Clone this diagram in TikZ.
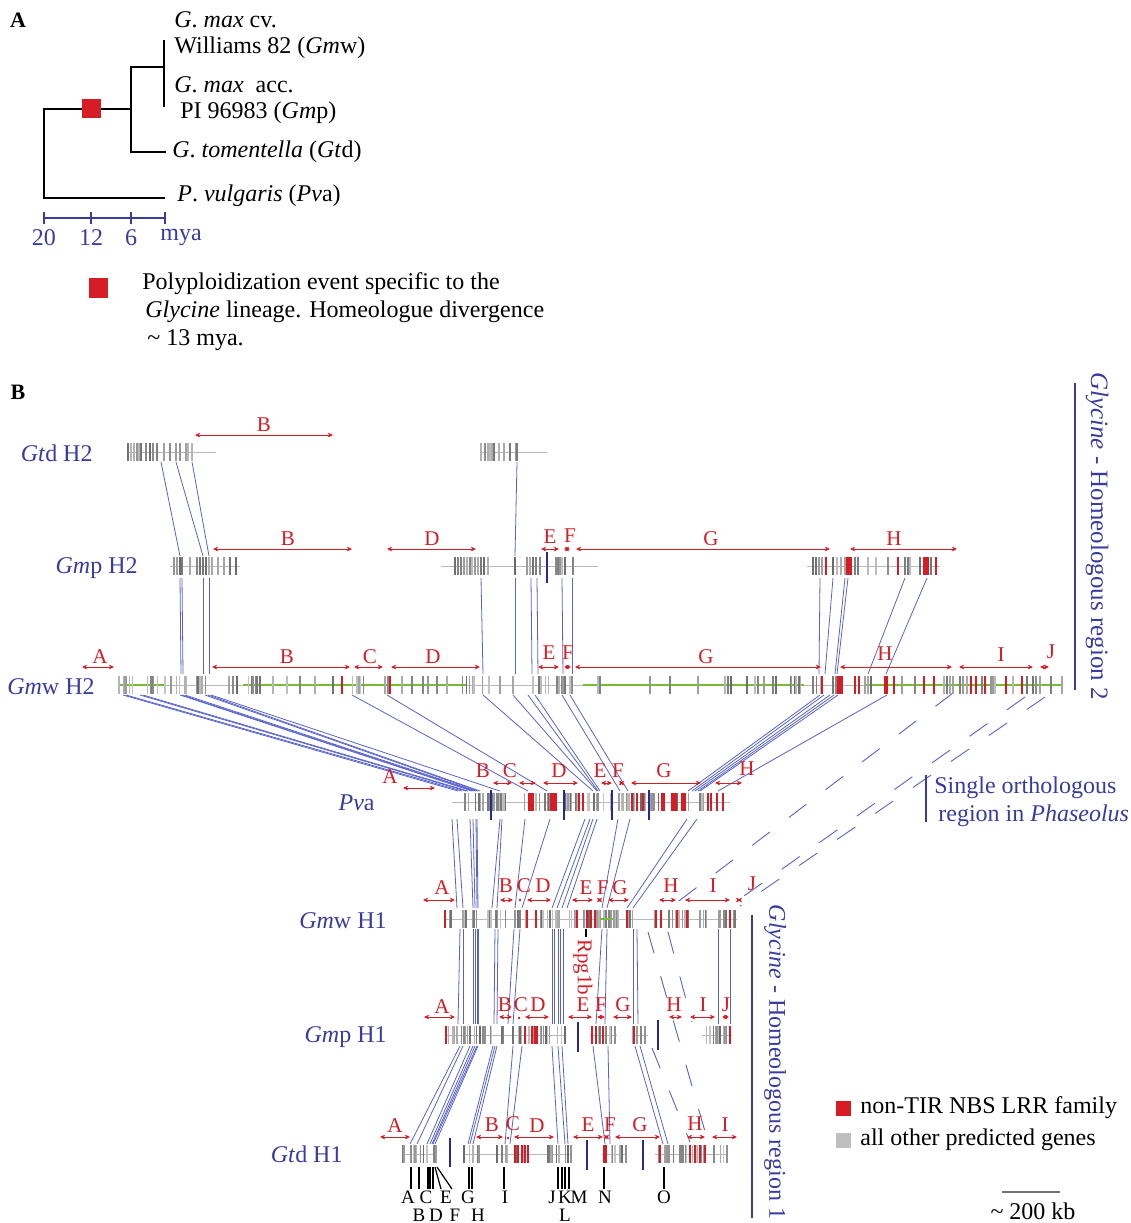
\documentclass[tikz,border=0pt]{standalone}
\usepackage{fontspec}
\setmainfont{Liberation Serif}
\usetikzlibrary{arrows.meta}

\definecolor{nbsred}{RGB}{214,28,36}
\definecolor{linkblue}{RGB}{88,98,205}
\definecolor{labblue}{RGB}{58,58,160}
\definecolor{barblue}{RGB}{40,40,150}
\definecolor{spinegreen}{RGB}{118,188,48}

\tikzset{
  gene/.style={line width=0.75pt},
  nbs/.style={nbsred, line width=0.9pt},
  spine/.style={black!28, line width=0.4pt},
  greenspine/.style={spinegreen, line width=0.9pt},
  link/.style={linkblue, line width=0.4pt},
  brk/.style={linkblue, line width=0.45pt, dash pattern=on 11pt off 12pt},
  gapbar/.style={barblue, line width=1.2pt},
  ivl/.style={nbsred, line width=0.5pt, {Stealth[length=2.6pt,width=2.4pt]}-{Stealth[length=2.6pt,width=2.4pt]}},
  ivltxt/.style={nbsred, inner sep=0, font=\fontsize{10.5}{12}\selectfont},
  trk/.style={labblue, anchor=base east, inner sep=0, font=\fontsize{12}{14}\selectfont},
  txt/.style={anchor=west, inner sep=0},
  tree/.style={line width=1pt},
  tag/.style={inner sep=0, font=\fontsize{9.5}{10}\selectfont}
}

% y, from, to, count
\newcommand{\genefill}[4]{%
  \foreach \k in {1,...,#4}{%
    \pgfmathsetmacro{\gx}{#2+rnd*(#3-#2)}%
    \pgfmathtruncatemacro{\gs}{22+rnd*38}%
    \draw[gene, black!\gs] (\gx,#1-9) -- (\gx,#1+9);}}
\newcommand{\genelist}[2]{%
  \foreach \gx in {#2}{%
    \pgfmathtruncatemacro{\gs}{25+rnd*35}%
    \draw[gene, black!\gs] (\gx,#1-9) -- (\gx,#1+9);}}
\newcommand{\nbslist}[2]{\foreach \gx in {#2}{\draw[nbs] (\gx,#1-9) -- (\gx,#1+9);}}
\newcommand{\links}[3]{\foreach \a/\b in {#3}{\draw[link] (\a,#1) -- (\b,#2);}}

\begin{document}
\begin{tikzpicture}[x=0.5pt, y=-0.5pt, font=\fontsize{12}{14}\selectfont]
\useasboundingbox (0,0) rectangle (1131,1223);
\pgfmathsetseed{7}

% ---------------- A: tree
\node[font=\bfseries\fontsize{11}{13}\selectfont] (labA) at (18,20) {A};
\draw[tree] (131,109) -- (44,109) -- (44,198) -- (165,198);
\draw[tree] (164,67) -- (131,67) -- (131,152) -- (166,152);
\draw[tree] (164,40) -- (164,107);
\fill[nbsred] (82,99) rectangle (101,118);

\node[txt] (gmw1) at (174,20) {\textit{G}. \textit{max} cv.};
\node[txt] (gmw2) at (174,48) {Williams 82 (\textit{Gm}w)};
\node[txt] (gmp1) at (174,85) {\textit{G}. \textit{max}\ \ acc.};
\node[txt] (gmp2) at (180,113) {PI 96983 (\textit{Gm}p)};
\node[txt] (gtd) at (172,152) {\textit{G}. \textit{tomentella} (\textit{Gt}d)};
\node[txt] (pva) at (177,196) {\textit{P}. \textit{vulgaris} (\textit{Pv}a)};

% time axis
\draw[labblue, line width=0.8pt] (44,218) -- (165,218);
\foreach \t/\l in {44/20, 91/12, 131/6} {
  \draw[labblue, line width=0.8pt] (\t,212) -- (\t,224);
  \node[labblue] (mya\l) at (\t,238) {\l};
}
\draw[labblue, line width=0.8pt] (165,212) -- (165,224);
\node[labblue] (myalab) at (181,237) {mya};

% polyploidy key
\fill[nbsred] (89,278) rectangle (108,298);
\node[txt] (key1) at (142,284) {Polyploidization event specific to the};
\node[txt] (key2) at (145,312) {\textit{Glycine} lineage. Homeologue divergence};
\node[txt] (key3) at (147,340) {\textasciitilde\ 13 mya.};

% ---------------- B
\node[font=\bfseries\fontsize{11}{13}\selectfont] (labB) at (18,392) {B};

% track names
\node[trk] (nGtdH2) at (93,461) {\textit{Gt}d H2};
\node[trk] (nGmpH2) at (138,573) {\textit{Gm}p H2};
\node[trk] (nGmwH2) at (95,694) {\textit{Gm}w H2};
\node[trk] (nPva) at (375,810) {\textit{Pv}a};
\node[trk] (nGmwH1) at (387,928) {\textit{Gm}w H1};
\node[trk] (nGmpH1) at (387,1042) {\textit{Gm}p H1};
\node[trk] (nGtdH1) at (343,1162) {\textit{Gt}d H1};

% syntenic links
\links{462}{556}{161/180, 176/203, 192/209, 517/515}
\links{578}{674}{180/181, 182/183, 203/203, 209/209, 481/483, 515/515, 531/532, 537/538, 562/563, 572/572, 820/819, 833/825, 845/835, 848/837, 905/868, 927/886}
\links{695}{791}{123/458, 126/462, 140/466, 143/468, 180/472, 182/474, 185/476, 205/478, 208/480, 211/500, 352/528, 387/547, 483/593, 513/597, 528/598, 535/600, 562/620, 570/628, 820/688, 824/692, 830/695, 834/698, 838/700, 887/718}
\links{819}{908}{452/457, 457/463, 470/473, 473/475, 476/477, 477/478, 500/492, 502/497, 525/515, 550/522, 585/552, 590/557, 593/562, 597/567, 618/602, 630/607, 687/627, 697/633}
\links{929}{1024}{460/458, 463/463, 473/473, 475/475, 477/477, 478/478, 495/494, 498/497, 514/508, 520/513, 552/552, 554/554, 558/558, 560/560, 563/563, 602/596, 607/605, 633/633, 637/638, 718/718, 730/730}
\links{1046}{1144}{460/410, 463/417, 470/427, 473/430, 475/432, 477/433, 478/435, 493/468, 495/470, 497/473, 513/505, 522/510, 552/558, 558/565, 562/568, 593/605, 608/610, 635/663, 640/668}

% broken links
\draw[brk] (953,693) -- (667,910);
\draw[brk] (1025,697) -- (727,908);
\draw[brk] (1045,697) -- (740,906);
\draw[brk] (648,932) -- (708,1142);
\draw[brk] (668,932) -- (692,1022);
\draw[brk] (652,1048) -- (690,1142);

% Gtd H2
\draw[spine] (127,452) -- (216,452);
\draw[spine] (480,452) -- (547,452);
\genelist{452}{128,131,134,137,139,141,146,150,153,157,164,170,176,180,186,188,192}
\genelist{452}{481,485,488,490,492,494,499,504,510,516,517}

% Gmp H2
\draw[spine] (170,566) -- (240,566);
\draw[spine] (441,566) -- (598,566);
\draw[spine] (807,566) -- (940,566);
\genelist{566}{174,177,180,182,190,197,200,203,206,209,212,218,224,230,236}
\genelist{566}{455,458,461,464,467,470,472,475,478,481,484,488,515,527,530,533,536,540,556,558,560,562,565,573}
\genelist{566}{813,816,819,822,833,837,841,845,855,858,868,876,888,905,908,910,920,931}
\nbslist{566}{826,847,849,851,898,924,926,928,936}
\draw[gapbar] (547,552) -- (547,583);

% Gmw H2
\draw[spine] (118,685) -- (1062,685);
\foreach \ga/\gb in {119/166, 243/466, 583/804, 864/1062}
  \draw[greenspine] (\ga,685) -- (\gb,685);
\genefill{685}{118}{165}{12}
\genefill{685}{170}{187}{6}
\genefill{685}{195}{217}{6}
\genefill{685}{247}{262}{8}
\genefill{685}{352}{367}{6}
\genefill{685}{382}{390}{4}
\genefill{685}{462}{490}{7}
\genefill{685}{528}{572}{14}
\genefill{685}{789}{800}{6}
\genefill{685}{813}{822}{4}
\genelist{685}{229,233,237,273,287,300,315,333,402,412,423,428,437,447,500,513,598,600,650,670,698,725,728,731,747,755,758,764,773,776,833,836,865,868,871,902,915,944,947,950,953,960,963,967,982,991,993,995,1013,1027,1033,1036,1040,1051,1062}
\nbslist{685}{342,390,822,838,840,842,855,859,885,887,894,924,934,971,976,985,1006,1022}

% Pva
\draw[spine] (452,802) -- (730,802);
\genefill{802}{452}{730}{90}
\fill[nbsred] (528,793) rectangle (534,811);
\fill[nbsred] (550,793) rectangle (557,811);
\fill[nbsred] (671,793) rectangle (677,811);
\fill[nbsred] (681,793) rectangle (686,811);
\nbslist{802}{579,583,632,637,643,662,664,708,711,717,723}
\foreach \bx in {491,564,612,649}
  \draw[gapbar] (\bx,790) -- (\bx,820);

% Gmw H1
\draw[spine] (445,919) -- (737,919);
\genefill{919}{448}{737}{95}
\draw[greenspine] (600,919) -- (613,919);
\nbslist{919}{445,527,536,577,587,591,595,627,656,661,677,687,730}
\draw[line width=0.7pt] (586,929) -- (586,937);
\node[nbsred, rotate=-90, anchor=west, inner sep=0, font=\fontsize{10.5}{12}\selectfont] (rpg) at (583,939) {Rpg1b};

% Gmp H1
\draw[spine] (446,1035) -- (565,1035);
\draw[spine] (590,1035) -- (617,1035);
\draw[spine] (633,1035) -- (648,1035);
\draw[spine] (702,1035) -- (732,1035);
\genefill{1035}{448}{565}{45}
\genefill{1035}{590}{617}{10}
\genelist{1035}{633,637,641,645}
\genefill{1035}{702}{732}{12}
\nbslist{1035}{446,525,532,535,537,592,596,603,634,730}
\draw[gapbar] (578,1022) -- (578,1052);
\draw[gapbar] (658,1020) -- (658,1050);

% Gtd H1
\draw[spine] (403,1154) -- (437,1154);
\draw[spine] (463,1154) -- (572,1154);
\draw[spine] (602,1154) -- (627,1154);
\draw[spine] (655,1154) -- (728,1154);
\genefill{1154}{403}{437}{14}
\genefill{1154}{463}{480}{5}
\genefill{1154}{493}{533}{14}
\genefill{1154}{547}{572}{10}
\genefill{1154}{602}{627}{8}
\genefill{1154}{655}{728}{25}
\nbslist{1154}{515,518,522,525,528,660,690,695,700,705}
\fill[nbsred] (603,1145) rectangle (607,1163);
\draw[gapbar] (450,1138) -- (450,1167);
\draw[gapbar] (587,1140) -- (587,1170);
\draw[gapbar] (643,1140) -- (643,1170);

% gene tags under Gtd H1
\foreach \x in {411,419,428,430,433,469,472,504,558,562,565,569,604,664}
  \draw[line width=0.6pt] (\x,1167) -- (\x,1189);
\draw[line width=0.6pt] (435,1167) -- (441,1189);
\draw[line width=0.6pt] (437,1167) -- (452,1189);
\foreach \x/\t in {408/A, 426/C, 446/E, 468/G, 505/I, 552/J, 565/K, 579/M, 605/N, 664/O}
  \node[tag] (tag\t) at (\x,1197) {\t};
\foreach \x/\t in {419/B, 436/D, 455/F, 478/H, 565/L}
  \node[tag] (tag\t) at (\x,1215) {\t};

% intervals
\draw[ivl] (195,435) -- (333,435);
\node[ivltxt] (gtdH2B) at (264,425) {B};

\foreach \xa/\xb in {213/352, 387/476, 541/559, 564/570, 576/830, 850/957}
  \draw[ivl] (\xa,549) -- (\xb,549);
\foreach \lx/\ly/\lt in {288/539/B, 432/539/D, 550/537/E, 570/536/F, 711/539/G, 894/539/H}
  \node[ivltxt] (gmpH2\lt) at (\lx,\ly) {\lt};

\foreach \xa/\xb in {82/114, 212/350, 354/383, 391/480, 538/559, 564/571, 575/821, 840/952, 959/1033, 1040/1049}
  \draw[ivl] (\xa,667) -- (\xb,667);
\foreach \lx/\ly/\lt in {100/657/A, 287/657/B, 370/657/C, 433/657/D, 549/653/E, 568/653/F, 706/657/G, 885/654/H, 1001/655/I, 1051/652/J}
  \node[ivltxt] (gmwH2\lt) at (\lx,\ly) {\lt};

\draw[ivl] (403,788) -- (435,788);
\foreach \xa/\xb in {493/512, 519/536, 543/578, 601/612, 619/624, 631/701, 715/742}
  \draw[ivl] (\xa,783) -- (\xb,783);
\foreach \lx/\ly/\lt in {390/777/A, 483/771/B, 510/771/C, 559/771/D, 600/771/E, 618/771/F, 664/771/G, 747/769/H}
  \node[ivltxt] (pva\lt) at (\lx,\ly) {\lt};

\foreach \xa/\xb in {423/455, 500/513, 527/551, 572/593, 597/602, 608/629, 659/676, 685/730, 737/741}
  \draw[ivl] (\xa,900) -- (\xb,900);
\fill[nbsred] (520,900) circle (1.3);
\foreach \lx/\ly/\lt in {442/888/A, 506/886/B, 524/886/C, 543/886/D, 586/888/E, 603/888/F, 620/888/G, 671/886/H, 713/886/I, 752/884/J}
  \node[ivltxt] (gmwH1\lt) at (\lx,\ly) {\lt};

\foreach \xa/\xb in {424/455, 499/512, 525/549, 568/592, 597/605, 613/632, 669/682, 690/715, 722/729}
  \draw[ivl] (\xa,1017) -- (\xb,1017);
\fill[nbsred] (519,1018) circle (1.3);
\foreach \lx/\ly/\lt in {442/1007/A, 505/1005/B, 521/1005/C, 538/1005/D, 583/1005/E, 601/1005/F, 623/1005/G, 674/1005/H, 703/1005/I, 726/1005/J}
  \node[ivltxt] (gmpH1\lt) at (\lx,\ly) {\lt};

\foreach \xa/\xb in {380/410, 476/503, 514/554, 573/603, 604/609, 615/660, 687/705, 712/737}
  \draw[ivl] (\xa,1137) -- (\xb,1137);
\fill[nbsred] (508,1138) circle (1.3);
\foreach \lx/\ly/\lt in {395/1126/A, 492/1125/B, 513/1124/C, 537/1126/D, 588/1125/E, 610/1125/F, 640/1125/G, 695/1124/H, 725/1125/I}
  \node[ivltxt] (gtdH1\lt) at (\lx,\ly) {\lt};

% region bars
\draw[labblue, line width=1pt] (1075,383) -- (1075,690);
\node[labblue, rotate=-90, inner sep=0, font=\fontsize{12.5}{14}\selectfont] (reg2) at (1097,536) {\textit{Glycine} - Homeologous region 2};
\draw[labblue, line width=1pt] (926,775) -- (926,822);
\node[txt, labblue] (orth1) at (934,788) {Single orthologous};
\node[txt, labblue] (orth2) at (938,816) {region in \textit{Phaseolus}};
\draw[labblue, line width=1pt] (752,915) -- (752,1218);
\node[labblue, rotate=-90, inner sep=0, font=\fontsize{12}{14}\selectfont] (reg1) at (775,1062) {\textit{Glycine} - Homeologous region 1};

% legend
\fill[nbsred] (836,1101) rectangle (851,1116);
\node[txt] (keyNbs) at (860,1108) {non-TIR NBS LRR family};
\fill[black!25] (836,1133) rectangle (851,1148);
\node[txt] (keyOther) at (860,1140) {all other predicted genes};
\draw[black!55, line width=1pt] (1002,1192) -- (1060,1192);
\node (kb) at (1033,1211) {\textasciitilde\ 200 kb};

\end{tikzpicture}
\end{document}
